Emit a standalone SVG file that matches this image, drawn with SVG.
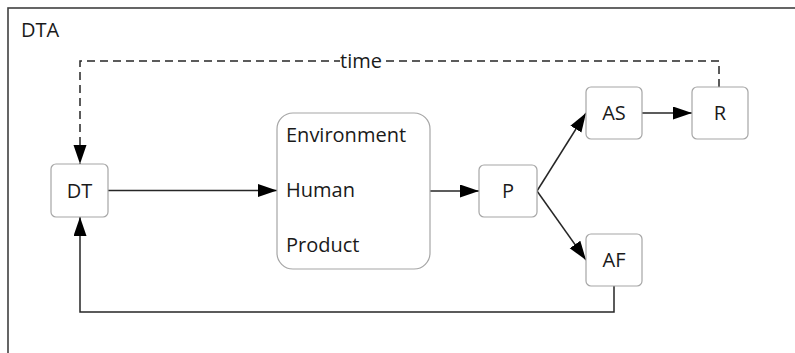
<svg xmlns="http://www.w3.org/2000/svg" width="795" height="353" viewBox="0 0 795 353">
<style>
.frame{fill:none;stroke:#404040;stroke-width:1.6}
.node{fill:#fff;stroke:#a6a6a6;stroke-width:1.2}
.lbl{font-family:"Open Sans","Noto Sans",sans-serif;font-size:20px;fill:#1a1a1a}
.mid{text-anchor:middle}
.conn{fill:none;stroke:#262626;stroke-width:1.5}
.dash{stroke-dasharray:8 5}
</style>
<defs>
<marker id="arr" markerUnits="userSpaceOnUse" markerWidth="20" markerHeight="14" refX="19" refY="6.5" orient="auto">
<path d="M0,0 L19,6.5 L0,13 Z" fill="#000"/>
</marker>
</defs>
<rect x="0" y="0" width="795" height="353" fill="#fff"/>
<rect class="frame" x="8" y="8" width="820" height="400"/>
<text class="lbl" x="21" y="37">DTA</text>
<g id="connectors">
<path class="conn dash" d="M719,87 V61 H80 V164" marker-end="url(#arr)"/>
<rect x="340" y="50" width="43" height="22" fill="#fff"/>
<text class="lbl mid" x="361" y="68">time</text>
<path class="conn" d="M108,190.5 H277" marker-end="url(#arr)"/>
<path class="conn" d="M430,191 H479" marker-end="url(#arr)"/>
<path class="conn" d="M537,191 L586,113" marker-end="url(#arr)"/>
<path class="conn" d="M537,191 L586,260" marker-end="url(#arr)"/>
<path class="conn" d="M642,113 H692" marker-end="url(#arr)"/>
<path class="conn" d="M614,286 V312 H80 V217" marker-end="url(#arr)"/>
</g>
<g id="DT"><rect class="node" x="51" y="164" width="57" height="53" rx="5"/><text class="lbl mid" x="79.5" y="198">DT</text></g>
<g id="EHP"><rect class="node" x="277" y="113" width="153" height="156" rx="16"/>
<text class="lbl" x="286" y="142">Environment</text>
<text class="lbl" x="286" y="197">Human</text>
<text class="lbl" x="286" y="252">Product</text></g>
<g id="P"><rect class="node" x="479" y="165" width="58" height="52" rx="5"/><text class="lbl mid" x="508" y="198">P</text></g>
<g id="AS"><rect class="node" x="586" y="87" width="56" height="52" rx="5"/><text class="lbl mid" x="614" y="120">AS</text></g>
<g id="R"><rect class="node" x="692" y="87" width="56" height="52" rx="5"/><text class="lbl mid" x="720" y="120">R</text></g>
<g id="AF"><rect class="node" x="586" y="234" width="56" height="52" rx="5"/><text class="lbl mid" x="614" y="267">AF</text></g>
</svg>
